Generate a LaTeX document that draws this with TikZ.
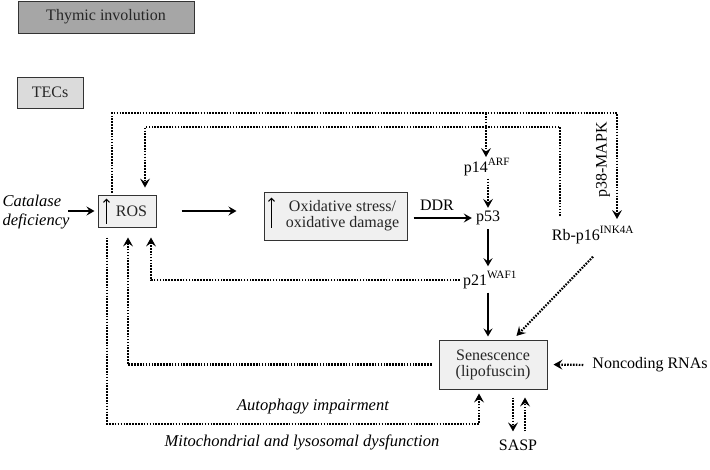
\documentclass[tikz,border=0pt]{standalone}
\usepackage{fontspec}
\setmainfont{Liberation Serif}
\usetikzlibrary{arrows.meta}
\begin{document}
\begin{tikzpicture}[x=1pt,y=-1pt,
  font=\fontsize{16pt}{18pt}\selectfont,
  box/.style={draw=black!80, line width=1pt, inner sep=0pt, align=center, text=black!85},
  lightbox/.style={box, fill=black!6},
  txt/.style={inner sep=1pt, align=center},
  itfont/.style={font=\fontsize{16.5pt}{19pt}\selectfont\itshape},
  solidarr/.style={line width=2.2pt, -{Stealth[length=8pt,width=9pt,inset=3pt]}},
  dotline/.style={line width=2.2pt, dash pattern=on 1.6pt off 1.3pt},
  dotarr/.style={dotline, -{Stealth[length=9pt,width=10pt,inset=3.5pt,line width=0pt]}},
  uparr/.style={line width=1.2pt, -{Straight Barb[length=3pt,width=6pt]}}
]
\useasboundingbox (0,0) rectangle (710,469);

% boxes
\node[box, fill=black!35, minimum width=176pt, minimum height=32pt] (thymic) at (106,17) {Thymic involution};
\node[box, fill=black!14, minimum width=66pt, minimum height=31pt] (tecs) at (50,92.5) {TECs};
\node[lightbox, minimum width=58pt, minimum height=32pt] (ros) at (127,211) {\hspace*{9pt}ROS};
\node[lightbox, minimum width=143pt, minimum height=48pt] (ox) at (335.5,216) {\hspace*{14pt}\begin{tabular}{@{}c@{}}Oxidative stress/\\[-2pt]oxidative damage\end{tabular}};
\node[lightbox, minimum width=108pt, minimum height=49pt] (sen) at (493,364.5) {\begin{tabular}{@{}c@{}}Senescence\\[-2pt](lipofuscin)\end{tabular}};

% arrows inside boxes
\draw[uparr] ([shift={(9,-4)}]ros.south west) -- ([shift={(9,-29)}]ros.south west);
\draw[uparr] ([shift={(8,-13)}]ox.south west) -- ([shift={(8,-43)}]ox.south west);

% text nodes
\node[txt, itfont, align=left] (cat) at (36,212) {Catalase\\deficiency};
\node[txt] (p14) at (487,167) {p14\textsuperscript{ARF}};
\node[txt] (p53) at (488,218) {p53};
\node[txt] (p21) at (490,280) {p21\textsuperscript{WAF1}};
\node[txt] (rb) at (593,235) {Rb-p16\textsuperscript{INK4A}};
\node[txt, rotate=90] (p38) at (603,160) {p38-MAPK};
\node[txt] (nc) at (650,365) {Noncoding RNAs};
\node[txt] (sasp) at (518,445) {SASP};
\node[txt] (ddr) at (437,205) {DDR};
\node[txt, itfont] (auto) at (313,407) {Autophagy impairment};
\node[txt, itfont] (mito) at (302,442) {Mitochondrial and lysosomal dysfunction};

% solid arrows
\coordinate (catend) at (68,211);
\draw[solidarr, shorten >=3pt] (catend) -- (ros.west);
\draw[solidarr, shorten <=25pt, shorten >=27pt] (ros.east) -- (ros.east -| ox.west);
\draw[solidarr, shorten <=6pt, shorten >=3pt] (ox.east |- p53.west) -- (p53.west);
\draw[solidarr, shorten <=3pt, shorten >=4pt] (p53.south) -- (p53.south |- p21.north);
\draw[solidarr, shorten <=3pt, shorten >=3pt] (p53.south |- p21.south) -- (p53.south |- sen.north);

% dotted arrows
\coordinate (outerstart) at ([xshift=-15pt,yshift=2pt]ros.north);
\coordinate (branch) at (486,113);
\draw[dotarr] (outerstart) -- (outerstart |- branch) -- (617,113) -- (617,219);
\draw[dotarr] (branch) -- (486,157);
\draw[dotarr, shorten <=2pt, shorten >=2pt] (p53.north |- p14.south) -- (p53.north);
\coordinate (innerstart) at (560,216);
\draw[dotarr, shorten >=7pt] (innerstart) -- (innerstart |- 0,127) -- ([xshift=18pt]ros.north |- 0,127) -- ([xshift=18pt]ros.north);
\draw[dotarr, shorten >=10pt] ([xshift=-2pt]p21.west) -- ([xshift=24pt]ros.south |- p21.west) -- ([xshift=24pt]ros.south);
\draw[dotarr, shorten >=10pt] ([xshift=-7pt]sen.west) -- ([xshift=1pt]ros.south |- sen.west) -- ([xshift=1pt]ros.south);
\draw[dotarr, shorten <=10pt, shorten >=4pt] ([xshift=-20pt]ros.south) -- ([xshift=-20pt]ros.south |- 0,424) -- ([xshift=-14pt]sen.south |- 0,424) -- ([xshift=-14pt]sen.south);
\draw[dotarr, shorten >=5pt] ([yshift=-12pt]rb.south) -- ([xshift=20pt]sen.north);
\draw[dotarr, shorten <=8pt, shorten >=6pt] (nc.west) -- (sen.east);
\draw[dotarr, shorten <=8pt, shorten >=7pt] ([xshift=20pt]sen.south) -- ([xshift=20pt]sen.south |- sasp.north);
\draw[dotarr, shorten <=7pt, shorten >=8pt] ([xshift=32pt]sen.south |- sasp.north) -- ([xshift=32pt]sen.south);
\end{tikzpicture}
\end{document}
